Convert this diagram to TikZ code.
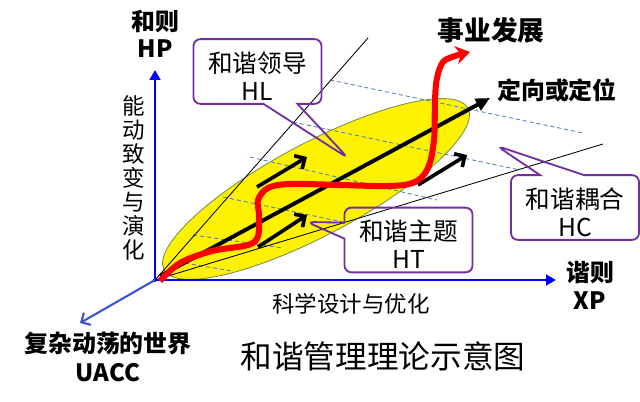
\documentclass[tikz,border=0pt]{standalone}
\usepackage{fontspec}
\setmainfont{Noto Sans CJK SC}
\usetikzlibrary{arrows.meta,shapes.geometric,shapes.callouts}
\definecolor{hxpurple}{RGB}{112,48,160}
\definecolor{hxdash}{RGB}{79,129,189}
\definecolor{hxaxis}{RGB}{0,0,255}
\definecolor{hxworld}{RGB}{60,85,205}
\definecolor{hxrim}{RGB}{120,140,90}
\newcommand{\lowerit}{\rule{0pt}{21pt}}
\begin{document}
\begin{tikzpicture}[x=0.025cm, y=-0.025cm,
axis/.style={draw=hxaxis, line width=2pt, -{Triangle[length=7pt,width=7.5pt]}},
bigtext/.style={font=\bfseries\fontsize{17}{19.5}\selectfont, align=center},
plaintext/.style={font=\fontsize{16}{17}\selectfont, align=center},
talk/.style={rectangle callout, draw=hxpurple, line width=1.3pt, rounded corners=5pt, align=center, font=\fontsize{17.5}{20}\selectfont, minimum width=3.2cm, minimum height=1.62cm, inner sep=1pt},
guide/.style={draw=hxdash, line width=0.6pt, dash pattern=on 3pt off 2pt},
ray/.style={draw=black, line width=0.6pt},
push/.style={line width=2.6pt, -{Straight Barb[length=5.5pt,width=11pt]}}
]

\useasboundingbox (0,0) rectangle (640,402);

% yellow zone
\node (zone) at (316,189) [ellipse, draw=hxrim, line width=0.6pt, fill=yellow, minimum width=8.6cm, minimum height=2.3cm, rotate=28] {};

% dashed guides
\draw[guide] (330,80) -- (583,133);
\draw[guide] (293,122) -- (520,170);
\draw[guide] (250,157) -- (437,200);
\draw[guide] (223,197) -- (343,222);
\draw[guide] (193,235) -- (283,248);
\draw[guide] (178,262) -- (232,271);

\coordinate (o) at (155,280);
\coordinate (upray) at (368,38);
\coordinate (lowray) at (603,144);
\draw[ray] (o) -- (upray);
\draw[ray] (o) -- (lowray);

% callouts
\node (hl) at (257.5,71.5) [talk, callout absolute pointer={(348,158)}, callout pointer width=0.85cm] {\lowerit 和谐领导\\HL};
\node (ht) at (408.5,240) [talk, callout absolute pointer={(307,222)}, callout pointer width=0.4cm] {\lowerit 和谐主题\\HT};
\node (hc) at (575,207.5) [talk, callout absolute pointer={(497,146)}, callout pointer width=1.1cm] {\lowerit 和谐耦合\\HC};

% orientation and steps
\draw[line width=2.8pt, -{Triangle[length=10pt,width=9pt]}] (160,276) -- (490,98);
\draw[push] (257,187) -- (307,157);
\draw[push] (258,247) -- (307,215);
\draw[push] (418,185) -- (467,155);

% axes
\draw[axis] (155,282) -- (155,70);
\draw[axis] (153,280) -- (556,280);
\draw[draw=hxworld, line width=1.5pt, -{Straight Barb[length=5pt,width=10pt]}] (o) -- (80,323);

% development path
\draw[red, line width=4.3pt, -{Stealth[length=10pt,width=13pt]}] plot[smooth, tension=0.55] coordinates {(160,281) (180,263) (212,251) (248,245) (258,236) (259,215) (258,200) (268,188) (290,184) (340,185) (390,186) (415,182) (428,168) (434,140) (435,100) (437,78) (443,62) (455,56) (470,52)};

% labels
\node (hp) at (155,34) [bigtext] {和则\\HP};
\node (xp) at (590,285) [bigtext, font=\bfseries\fontsize{17}{20}\selectfont] {谐则\\XP};
\node (uacc) at (108,357) [bigtext, font=\bfseries\fontsize{17}{20.5}\selectfont] {复杂动荡的世界\\UACC};
\node (dev) at (491,30) [bigtext, font=\bfseries\fontsize{19}{22}\selectfont] {事业发展};
\node (dir) at (557,90) [bigtext] {定向或定位};
\node (evo) at (134,178) [plaintext] {能\\动\\致\\变\\与\\演\\化};
\node (design) at (351,304) [plaintext] {科学设计与优化};
\node (title) at (383,356) [font=\fontsize{22.5}{24}\selectfont] {和谐管理理论示意图};

\end{tikzpicture}
\end{document}
